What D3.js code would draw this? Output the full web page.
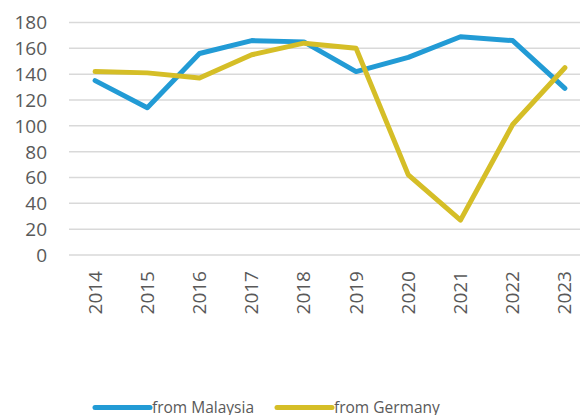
<!DOCTYPE html>
<meta charset="utf-8">
<style>
body { margin: 0; background: #fff; }
svg { display: block; }
text { font-family: "Open Sans", sans-serif; fill: #595959; }
</style>
<body>
<script src="https://cdn.jsdelivr.net/npm/d3@7"></script>
<script>

var years = ["2014","2015","2016","2017","2018","2019","2020","2021","2022","2023"];
var malaysia = [135, 114, 156, 166, 165, 142, 153, 169, 166, 129];
var germany = [142, 141, 137, 155, 164, 160, 62, 27, 101, 145];
var yTicks = [0, 20, 40, 60, 80, 100, 120, 140, 160, 180];
var seriesNames = ["from Malaysia", "from Germany"];
var colors = ["#229BD5", "#D5BE27"];

var width = 580, height = 415;
var plotLeft = 69, plotRight = 591, plotTop = 22.5, plotBottom = 255;

var svg = d3.select("body").append("svg")
	.attr("width", width)
	.attr("height", height);

var x = d3.scalePoint()
	.domain(years)
	.range([plotLeft, plotRight])
	.padding(0.5);

var y = d3.scaleLinear()
	.domain([0, 180])
	.range([plotBottom, plotTop]);

// gridlines
svg.append("g").selectAll("line")
	.data(yTicks)
	.enter().append("line")
	.attr("x1", plotLeft).attr("x2", plotRight)
	.attr("y1", function(d) { return y(d); })
	.attr("y2", function(d) { return y(d); })
	.attr("stroke", "#D9D9D9")
	.attr("stroke-width", 1.5);

// y labels
svg.append("g").selectAll("text")
	.data(yTicks)
	.enter().append("text")
	.attr("x", 47)
	.attr("y", function(d) { return y(d); })
	.attr("dy", "0.36em")
	.attr("text-anchor", "end")
	.style("font-size", "19px")
	.text(function(d) { return d; });

// x labels (rotated)
svg.append("g").selectAll("text")
	.data(years)
	.enter().append("text")
	.attr("transform", function(d) { return "translate(" + (x(d) + 6.5) + ",271) rotate(-90)"; })
	.attr("text-anchor", "end")
	.style("font-size", "19px")
	.text(function(d) { return d; });

var line = d3.line()
	.x(function(d, i) { return x(years[i]); })
	.y(function(d) { return y(d); });

[malaysia, germany].forEach(function(s, i) {
	svg.append("path")
		.datum(s)
		.attr("d", line)
		.attr("fill", "none")
		.attr("stroke", colors[i])
		.attr("stroke-width", 5)
		.attr("stroke-linejoin", "round")
		.attr("stroke-linecap", "round");
});

// legend
var legendX = [95, 277];
var legend = svg.append("g").selectAll("g")
	.data(seriesNames)
	.enter().append("g")
	.attr("transform", function(d, i) { return "translate(" + legendX[i] + ",407.5)"; });

legend.append("line")
	.attr("x1", 0).attr("x2", 55)
	.attr("stroke", function(d, i) { return colors[i]; })
	.attr("stroke-width", 5)
	.attr("stroke-linecap", "round");

legend.append("text")
	.attr("x", 57)
	.attr("y", 5.5)
	.style("font-size", "15.5px")
	.text(function(d) { return d; });

</script>
</body>
